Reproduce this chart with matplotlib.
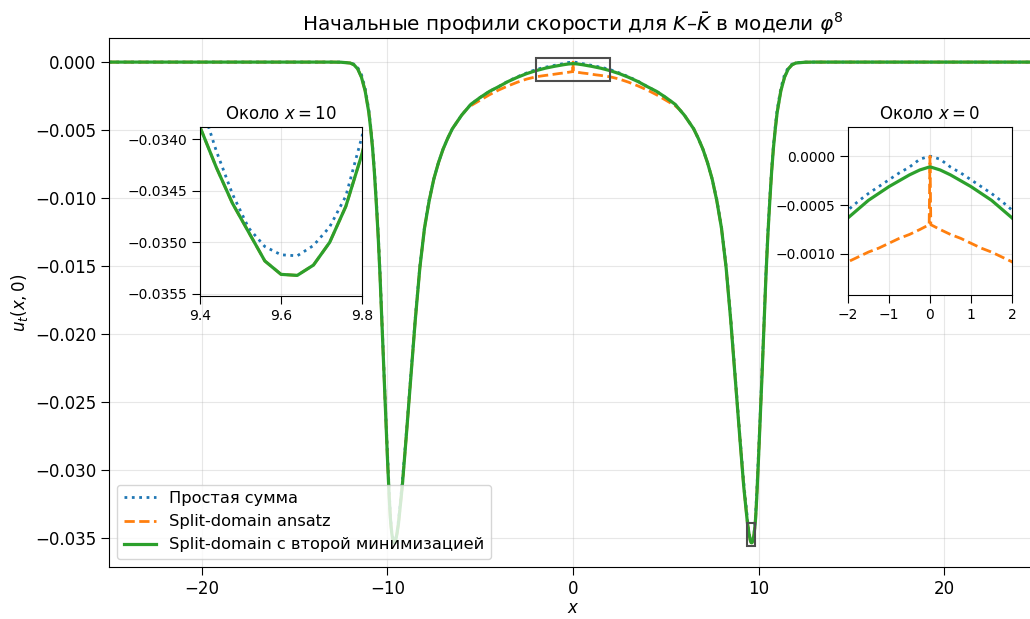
import numpy as np
import matplotlib
matplotlib.use("Agg")
import matplotlib.pyplot as plt
from matplotlib.patches import Rectangle
from matplotlib.ticker import FuncFormatter

# Profil u_t(x,0), demi-axe x >= 0 (le profil est symetrique)
x_demi = [0.0, 0.02, 0.25, 0.5, 0.75, 1.0, 1.25, 1.5, 1.75, 2.0,
          2.5, 3.0, 3.5, 4.0, 4.5, 5.0, 5.5, 5.75, 6.0, 6.25,
          6.5, 6.75, 7.0, 7.25, 7.5, 7.75, 8.0, 8.25, 8.5, 8.75,
          9.0, 9.2, 9.4, 9.44, 9.48, 9.52, 9.56, 9.6, 9.64, 9.68,
          9.72, 9.76, 9.8, 9.84, 9.9, 10.0, 10.1, 10.2, 10.3, 10.4,
          10.5, 10.6, 10.7, 10.8, 10.9, 11.0, 11.2, 11.4, 11.6, 11.8,
          12.0, 12.5, 13.0, 15.0, 20.0, 25.0]

# Простая сумма
somme_simple = [0.0, 0.0, -0.00003, -0.00011, -0.00017, -0.00024, -0.00031, -0.00038, -0.00046, -0.00055,
                -0.0008, -0.00108, -0.0014, -0.0018, -0.00215, -0.0026, -0.0031, -0.0035, -0.0039, -0.0044,
                -0.0049, -0.0056, -0.0064, -0.0074, -0.0086, -0.0101, -0.0121, -0.0150, -0.0188, -0.0232,
                -0.0276, -0.0309, -0.03362, -0.03411, -0.03453, -0.03486, -0.03504, -0.03512, -0.03513, -0.03503,
                -0.03485, -0.03455, -0.03397, -0.0332, -0.0316, -0.0286, -0.0255, -0.0222, -0.0187, -0.0153,
                -0.0124, -0.0100, -0.0079, -0.0061, -0.0047, -0.0035, -0.0019, -0.0009, -0.0004, -0.00015,
                -0.00005, 0.0, 0.0, 0.0, 0.0, 0.0]

# Split-domain ansatz
split_ansatz = [0.0, -0.0007, -0.00075, -0.0008, -0.00084, -0.00089, -0.00094, -0.00098, -0.00103, -0.00108,
                -0.00125, -0.00148, -0.00175, -0.00205, -0.0024, -0.0028, -0.0032, -0.0035, -0.0039, -0.0044,
                -0.0049, -0.0056, -0.0064, -0.0074, -0.0086, -0.0102, -0.0122, -0.0151, -0.0190, -0.0234,
                -0.0278, -0.0312, -0.03388, -0.03427, -0.03462, -0.03490, -0.03518, -0.03531, -0.03532, -0.03522,
                -0.03500, -0.03465, -0.03414, -0.0335, -0.0320, -0.0290, -0.0258, -0.0225, -0.0190, -0.0156,
                -0.0127, -0.0103, -0.0081, -0.0063, -0.0049, -0.0037, -0.0021, -0.0011, -0.0005, -0.0002,
                -0.00007, -0.00001, 0.0, 0.0, 0.0, 0.0]

# Split-domain с второй минимизацией
split_min2 = [-0.00011, -0.00011, -0.00014, -0.00019, -0.00025, -0.00031, -0.00038, -0.00045, -0.00054, -0.00063,
              -0.00085, -0.00112, -0.00143, -0.0018, -0.00215, -0.0026, -0.0031, -0.0035, -0.0039, -0.0044,
              -0.0049, -0.0056, -0.0064, -0.0074, -0.0086, -0.0102, -0.0122, -0.0151, -0.0190, -0.0234,
              -0.0278, -0.0312, -0.03388, -0.03427, -0.03462, -0.03490, -0.03518, -0.03531, -0.03532, -0.03522,
              -0.03500, -0.03465, -0.03414, -0.0335, -0.0320, -0.0290, -0.0258, -0.0225, -0.0190, -0.0156,
              -0.0127, -0.0103, -0.0081, -0.0063, -0.0049, -0.0037, -0.0021, -0.0011, -0.0005, -0.0002,
              -0.00007, -0.00001, 0.0, 0.0, 0.0, 0.0]

labels = ["Простая сумма", "Split-domain ansatz", "Split-domain с второй минимизацией"]

# Fenetres des zooms
zoom0_x = (-2, 2)
zoom0_y = (-0.00142, 0.0003)
zoom10_x = (9.4, 9.8)
zoom10_y = (-0.03552, -0.03388)


def symetrie(valeurs, impair=False):
    v = np.asarray(valeurs)
    gauche = -v[:0:-1] if impair else v[:0:-1]
    return np.concatenate([gauche, v])


x = symetrie(x_demi, impair=True)
series = [symetrie(somme_simple), symetrie(split_ansatz), symetrie(split_min2)]
styles = [dict(color="tab:blue", ls=":", lw=2.0),
          dict(color="tab:orange", ls="--", lw=2.0),
          dict(color="tab:green", ls="-", lw=2.3)]

plt.rcParams["font.size"] = 12
plt.rcParams["xtick.major.size"] = 5.5
plt.rcParams["ytick.major.size"] = 5.5

fmt4 = FuncFormatter(lambda v, p: f"{v:.4f}".replace("-", "\u2212"))

fig = plt.figure(figsize=(10.3, 6.19), dpi=100)
ax = fig.add_axes([0.1058, 0.084, 0.901, 0.8546])

for y, lab, st in zip(series, labels, styles):
    ax.plot(x, y, label=lab, **st)

ax.set_xlim(-25, 25)
ax.set_ylim(-0.0371, 0.00177)
ax.set_xlabel("$x$", labelpad=1)
ax.set_ylabel("$u_t(x,0)$")
ax.set_title(r"Начальные профили скорости для $K$–$\bar{K}$ в модели $\varphi^8$", fontsize=14.4)
ax.grid(True, alpha=0.3)
ax.legend(loc="lower left", fontsize=11.7)

# Cadres des zones agrandies
for (x0, x1), (y0, y1) in [(zoom0_x, zoom0_y), (zoom10_x, zoom10_y)]:
    ax.add_patch(Rectangle((x0, y0), x1 - x0, y1 - y0, fill=False,
                           edgecolor="0.3", lw=1.5, zorder=5))

# Encart autour de x = 10
ins1 = fig.add_axes([0.1942, 0.5218, 0.1573, 0.2730])
for y, st in zip(series, styles):
    ins1.plot(x, y, **st)
ins1.set_xlim(*zoom10_x)
ins1.set_ylim(*zoom10_y)
ins1.set_xticks([9.4, 9.6, 9.8])
ins1.set_yticks([-0.034, -0.0345, -0.035, -0.0355])
ins1.yaxis.set_major_formatter(fmt4)
ins1.tick_params(labelsize=10)
ins1.set_title("Около $x = 10$", fontsize=12)
ins1.grid(True, alpha=0.3)

# Encart autour de x = 0
ins2 = fig.add_axes([0.8233, 0.5234, 0.1592, 0.2714])
for y, st in zip(series, styles):
    ins2.plot(x, y, **st)
ins2.set_xlim(*zoom0_x)
ins2.set_ylim(*zoom0_y)
ins2.set_xticks([-2, -1, 0, 1, 2])
ins2.set_yticks([0.0, -0.0005, -0.001])
ins2.yaxis.set_major_formatter(fmt4)
ins2.tick_params(labelsize=10)
ins2.set_title("Около $x = 0$", fontsize=12)
ins2.grid(True, alpha=0.3)

fig.savefig("out.png", dpi=100)
